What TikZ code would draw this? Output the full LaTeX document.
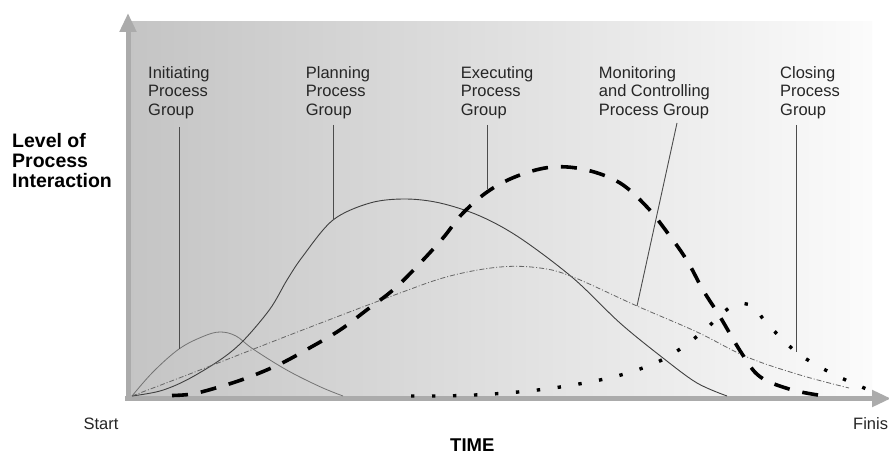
\documentclass[tikz,border=0pt]{standalone}
\usepackage{fontspec}
\setmainfont{Liberation Sans}
\usetikzlibrary{arrows.meta}
\begin{document}
\begin{tikzpicture}[x=1pt,y=-1pt,
  lbl/.style={anchor=north west,inner sep=0pt,align=left,font=\fontsize{16.5}{18.5}\selectfont,text=black!85},
  axislbl/.style={anchor=base west,inner sep=0pt,font=\fontsize{16.5}{18.5}\selectfont,text=black!85},
  boldlbl/.style={anchor=north west,inner sep=0pt,align=left,font=\bfseries\fontsize{19.5}{20}\selectfont},
  leader/.style={draw=black!70,line width=0.9pt},
  axis/.style={draw=black!33,line width=5pt,-{Triangle[length=19pt,width=16pt]}},
  initc/.style={draw=black!55,line width=0.8pt},
  planc/.style={draw=black!75,line width=0.9pt},
  execc/.style={draw=black,line width=3.6pt,dash pattern=on 16pt off 13pt},
  monc/.style={draw=black!60,line width=0.8pt,dash pattern=on 5pt off 2pt on 1pt off 2pt},
  closc/.style={draw=black,line width=3.4pt,dash pattern=on 3.4pt off 17.6pt}
]
\useasboundingbox (0,0) rectangle (889,454);
\fill[white] (0,0) rectangle (889,454);
\shade[left color=black!23,right color=black!1.5] (131,22) rectangle (872,398);

% axes
\coordinate (yb) at (128,401);
\coordinate (yt) at (128,13);
\coordinate (xl) at (125,398.5);
\coordinate (xr) at (891,398.5);
\draw[axis] (yb) -- (yt);
\draw[axis] (xl) -- (xr);

% curves
\draw[initc] plot[smooth,tension=0.6] coordinates {(132,396) (153,372) (179,349) (203,336.5) (220,332) (236,336) (253,349) (286.7,370) (320,386.7) (343,396)};
\draw[planc] plot[smooth,tension=0.55] coordinates {(132,396) (160,391) (186.7,380) (220,360) (243,341) (270,309) (287,280) (303,256) (333,220) (370,203) (405,199) (440,203) (480,216) (520,238) (573,278) (620,323) (663,358) (697,383) (727,396)};
\draw[monc] plot[smooth,tension=0.6] coordinates {(132,396) (200,370) (300,331) (400,293) (450,276) (500,267) (540,268) (573,277) (637,306) (697,332) (747,357) (800,375) (849,388)};
\draw[execc] plot[smooth,tension=0.6] coordinates {(172,395.5) (192,394) (216.7,387.7) (246.7,378) (280,364) (310,347.7) (340,330) (366.7,310) (393,290) (416.7,266.7) (443,238) (463,213) (490,190) (520,175) (553,167) (586.7,170) (620,183) (646.7,206.7) (666.7,231.7) (686.7,260) (703,290) (720,316.7) (741.7,353.3) (760,376.7) (790,389.3) (818,395)};
\draw[closc] plot[smooth,tension=0.6] coordinates {(411,396) (455,395.7) (497,393.7) (540,389.7) (582.7,383.3) (624.3,374) (664.3,358.7) (699.7,334.3) (731.7,306.3) (752.3,306) (766,322.3) (796.7,352.3) (833.7,374.3) (875,392.5)};

% labels
\node[lbl] (init) at (148,66) {Initiating\\Process\\Group};
\node[lbl] (plan) at (305.7,66) {Planning\\Process\\Group};
\node[lbl] (exec) at (460.7,66) {Executing\\Process\\Group};
\node[lbl] (mon) at (598.7,66) {Monitoring\\and Controlling\\Process Group};
\node[lbl] (clos) at (780,66) {Closing\\Process\\Group};
\node[boldlbl] (level) at (12,132.7) {Level of\\Process\\Interaction};
\node[axislbl] (start) at (83.3,429) {Start};
\node[axislbl] (finish) at (853,429) {Finish};
\node[anchor=base west,inner sep=0pt,font=\bfseries\fontsize{18.5}{20}\selectfont] (time) at (450,451) {TIME};

% leader lines
\coordinate (initT) at (179,127);  \coordinate (initB) at (179,349);
\coordinate (planT) at (333,125);  \coordinate (planB) at (333,220);
\coordinate (execT) at (487,125);  \coordinate (execB) at (487,189);
\coordinate (monT) at (677,123);   \coordinate (monB) at (637,306);
\coordinate (closT) at (796.5,125); \coordinate (closB) at (796.5,352);
\draw[leader] (initT) -- (initB);
\draw[leader] (planT) -- (planB);
\draw[leader] (execT) -- (execB);
\draw[leader] (monT) -- (monB);
\draw[leader] (closT) -- (closB);
\end{tikzpicture}
\end{document}
